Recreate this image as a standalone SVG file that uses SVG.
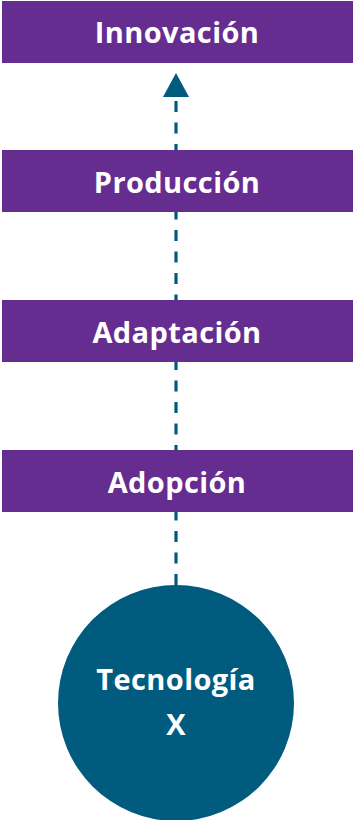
<svg xmlns="http://www.w3.org/2000/svg" width="353" height="820" viewBox="0 0 353 820">
<style>
.bar{fill:#662D91}
.lbl{font-family:"Open Sans",Lato,sans-serif;font-weight:700;font-size:29px;letter-spacing:0.4px;fill:#ffffff;text-anchor:middle}
.conn{stroke:#005B7F;stroke-width:3.2;stroke-dasharray:11 10.5;fill:none}
</style>
<rect width="353" height="820" fill="#ffffff"/>
<g id="connectors">
<line class="conn" x1="176" y1="585" x2="176" y2="97"/>
<polygon points="176,73 189,97 163,97" fill="#005B7F"/>
</g>
<g id="innovacion"><rect class="bar" x="2" y="1" width="351" height="62"/><text class="lbl" x="177" y="42.5">Innovación</text></g>
<g id="produccion"><rect class="bar" x="2" y="150" width="351" height="62"/><text class="lbl" x="177" y="192.5">Producción</text></g>
<g id="adaptacion"><rect class="bar" x="2" y="300" width="351" height="62"/><text class="lbl" x="177" y="342.5">Adaptación</text></g>
<g id="adopcion"><rect class="bar" x="2" y="450" width="351" height="62"/><text class="lbl" x="177" y="492.5">Adopción</text></g>
<g id="tecnologia"><circle cx="176" cy="703" r="118" fill="#005B7F"/><text class="lbl" x="176" y="690">Tecnología</text><text class="lbl" x="176" y="735">X</text></g>
</svg>
